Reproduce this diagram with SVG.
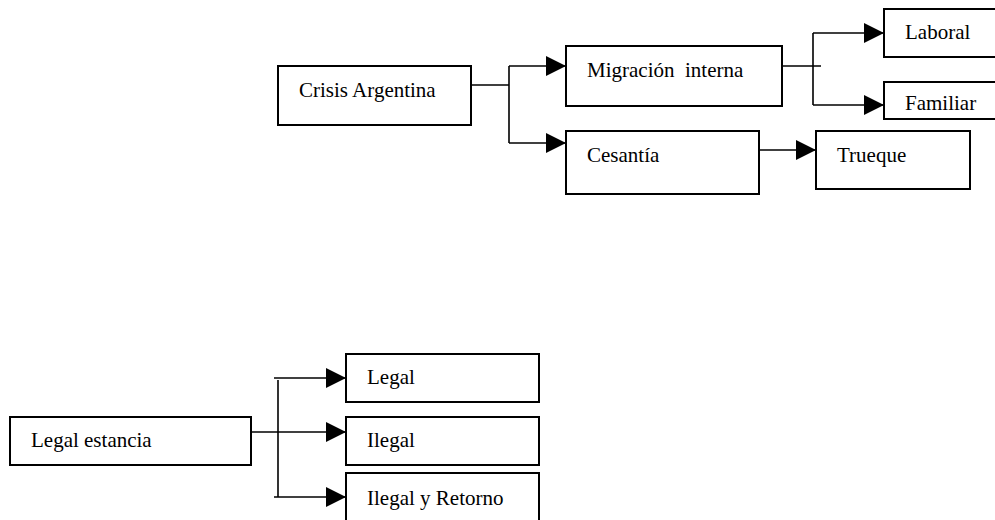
<svg xmlns="http://www.w3.org/2000/svg" width="995" height="520" viewBox="0 0 995 520">
<style>
.box{fill:#fff;stroke:#000;stroke-width:2}
.lbl{font-family:"Liberation Serif","Times New Roman",serif;font-size:21px;fill:#000;white-space:pre}
.ln{fill:none;stroke:#000;stroke-width:1.6}
.arr{marker-end:url(#ah)}
</style>
<defs>
<marker id="ah" markerUnits="userSpaceOnUse" markerWidth="20" markerHeight="20" refX="20" refY="10" orient="auto">
<path d="M0,0 L20,10 L0,20 z" fill="#000"/>
</marker>
</defs>
<rect width="995" height="520" fill="#fff"/>
<g id="connectors">
<path class="ln" d="M471,85 H509 M509,66 V143"/>
<path class="ln arr" d="M509,66 H566"/>
<path class="ln arr" d="M509,143 H566"/>
<path class="ln" d="M778,66 H821 M813,33 V105"/>
<path class="ln arr" d="M813,33 H884"/>
<path class="ln arr" d="M813,105 H884"/>
<path class="ln arr" d="M759,150 H816"/>
<path class="ln" d="M278,380 V497"/>
<path class="ln arr" d="M274,378 H346"/>
<path class="ln arr" d="M251,432 H346"/>
<path class="ln arr" d="M274,497 H346"/>
</g>
<g id="crisis"><rect class="box" x="278" y="66" width="193" height="59"/><text class="lbl" x="299" y="97">Crisis Argentina</text></g>
<g id="migracion"><rect class="box" x="566" y="46" width="216" height="60"/><text class="lbl" x="587" y="77">Migración  interna</text></g>
<g id="cesantia"><rect class="box" x="566" y="131" width="193" height="63"/><text class="lbl" x="587" y="162">Cesantía</text></g>
<g id="trueque"><rect class="box" x="816" y="131" width="154" height="58"/><text class="lbl" x="837" y="162">Trueque</text></g>
<g id="laboral"><rect class="box" x="884" y="9" width="115" height="48"/><text class="lbl" x="905" y="39">Laboral</text></g>
<g id="familiar"><rect class="box" x="884" y="82" width="115" height="37"/><text class="lbl" x="905" y="110">Familiar</text></g>
<g id="legal-estancia"><rect class="box" x="10" y="417" width="241" height="48"/><text class="lbl" x="31" y="447">Legal estancia</text></g>
<g id="legal"><rect class="box" x="346" y="354" width="193" height="48"/><text class="lbl" x="367" y="384">Legal</text></g>
<g id="ilegal"><rect class="box" x="346" y="417" width="193" height="48"/><text class="lbl" x="367" y="447">Ilegal</text></g>
<g id="ilegal-retorno"><rect class="box" x="346" y="473" width="193" height="52"/><text class="lbl" x="367" y="505">Ilegal y Retorno</text></g>
</svg>
